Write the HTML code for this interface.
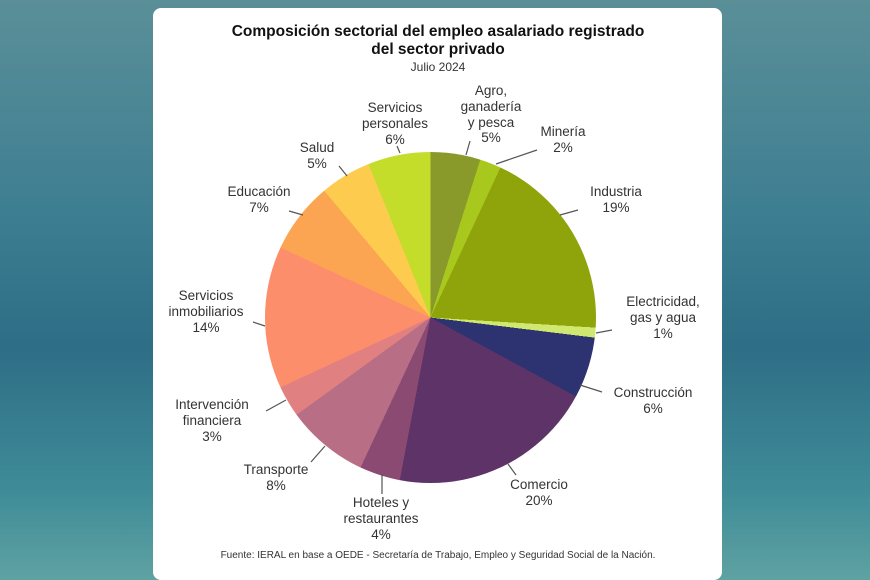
<!DOCTYPE html>
<html><head><meta charset="utf-8"><style>
html,body{margin:0;padding:0}
body{width:870px;height:580px;position:relative;overflow:hidden;font-family:"Liberation Sans",sans-serif;
background:linear-gradient(180deg,#5a8f98 0%,#3f7f92 35%,#2e6e86 60%,#3f8c98 85%,#5fa2a2 100%);}
.card{position:absolute;left:153px;top:8px;width:569px;height:572px;background:#fff;border-radius:8px;}
.pie{position:absolute;left:265px;top:152px;width:331px;height:331px;border-radius:50%;
background:conic-gradient(from 0deg,#8a9a2a 0 17.5deg,#a8c81e 17.5deg 25deg,#8fa40a 25deg 93.5deg,#d0e870 93.5deg 97deg,#2d3270 97deg 118.5deg,#5e3468 118.5deg 190.7deg,#8a4a72 190.7deg 205deg,#b86e84 205deg 234deg,#e08080 234deg 245deg,#fd8e6c 245deg 295deg,#fba552 295deg 320deg,#fdcb4e 320deg 338deg,#c4dc2a 338deg 360deg);}
svg{position:absolute;left:0;top:0}
text{font-family:"Liberation Sans",sans-serif;fill:#333;font-size:13.5px;text-anchor:middle}
.t{font-weight:bold;font-size:15.5px;fill:#111}
</style></head><body>
<div class="card"></div>
<div class="pie"></div>
<svg width="870" height="580">
<text class="t" x="438" y="36">Composición sectorial del empleo asalariado registrado</text>
<text class="t" x="438" y="54">del sector privado</text>
<text x="438" y="71" style="font-size:12px">Julio 2024</text>
<g stroke="#555" stroke-width="1.2">
<line x1="397" y1="146" x2="400" y2="153"/>
<line x1="470" y1="141" x2="466" y2="155"/>
<line x1="537" y1="150" x2="496" y2="164"/>
<line x1="578" y1="210" x2="560" y2="215"/>
<line x1="612" y1="330" x2="596" y2="333"/>
<line x1="580" y1="385" x2="602" y2="392"/>
<line x1="508" y1="464" x2="516" y2="475"/>
<line x1="382" y1="474" x2="382" y2="494"/>
<line x1="325" y1="446" x2="311" y2="462"/>
<line x1="286" y1="400" x2="266" y2="411"/>
<line x1="253" y1="322" x2="265" y2="326"/>
<line x1="289" y1="211" x2="303" y2="215"/>
<line x1="339" y1="166" x2="347" y2="176"/>
</g>
<text x="395" y="112">Servicios</text><text x="395" y="128">personales</text><text x="395" y="144">6%</text>
<text x="491" y="95">Agro,</text><text x="491" y="111">ganadería</text><text x="491" y="127">y pesca</text><text x="491" y="142">5%</text>
<text x="563" y="136">Minería</text><text x="563" y="152">2%</text>
<text x="616" y="196">Industria</text><text x="616" y="212">19%</text>
<text x="663" y="306">Electricidad,</text><text x="663" y="322">gas y agua</text><text x="663" y="338">1%</text>
<text x="653" y="397">Construcción</text><text x="653" y="413">6%</text>
<text x="539" y="489">Comercio</text><text x="539" y="505">20%</text>
<text x="381" y="507">Hoteles y</text><text x="381" y="523">restaurantes</text><text x="381" y="539">4%</text>
<text x="276" y="474">Transporte</text><text x="276" y="490">8%</text>
<text x="212" y="409">Intervención</text><text x="212" y="425">financiera</text><text x="212" y="441">3%</text>
<text x="206" y="300">Servicios</text><text x="206" y="316">inmobiliarios</text><text x="206" y="332">14%</text>
<text x="259" y="196">Educación</text><text x="259" y="212">7%</text>
<text x="317" y="152">Salud</text><text x="317" y="168">5%</text>
<text x="438" y="558" style="font-size:10px">Fuente: IERAL en base a OEDE - Secretaría de Trabajo, Empleo y Seguridad Social de la Nación.</text>
</svg>
</body></html>
